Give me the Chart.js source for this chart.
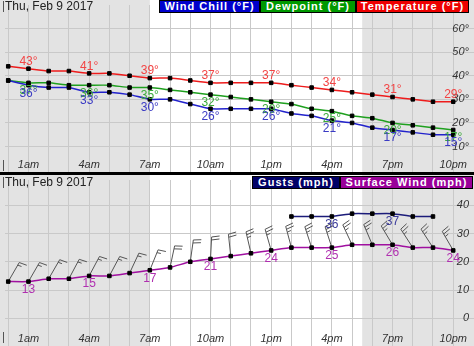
<!DOCTYPE html>
<html lang="en">
<head>
<meta charset="UTF-8">
<title>Hourly Weather Graph</title>
<script src="https://cdn.jsdelivr.net/npm/chart.js"></script>
<style>
    body { margin: 0; background: #fff; font-family: Arial, "Liberation Sans", sans-serif; }
    #wrap { position: relative; width: 474px; height: 346px; overflow: hidden; }
    canvas { position: absolute; left: 0; }
    #topChart { top: 0; }
    #bottomChart { top: 175px; }
    .divider { position: absolute; left: 0; top: 172px; width: 474px; height: 3px; background: #000; }
    .date { position: absolute; left: 5px; font-size: 12px; line-height: 13px; color: #222; }
    .mark { position: absolute; left: 3px; width: 1px; height: 11px; background: #555; }
    .key { position: absolute; height: 13px; box-sizing: border-box; border: 1px solid #000; color: #fff;
           font-weight: bold; font-size: 11px; letter-spacing: 1px; line-height: 11px; text-align: center; white-space: nowrap; }
</style>
</head>
<body>
<div id="wrap">
    <!-- top canvas runs a few px under the divider so the hour labels sit low like the original -->
    <canvas id="topChart" width="474" height="177"></canvas>
    <div class="divider"></div>
    <canvas id="bottomChart" width="474" height="176"></canvas>

    <div class="date" style="top:0">Thu, Feb 9 2017</div>
    <div class="mark" style="top:1px"></div>
    <div class="mark" style="top:160px"></div>
    <div class="key" style="left:159px; top:0; width:101px; background:#0000cc">Wind Chill (°F)</div>
    <div class="key" style="left:260px; top:0; width:96px; background:#009900">Dewpoint (°F)</div>
    <div class="key" style="left:356px; top:0; width:113px; background:#ee0000">Temperature (°F)</div>

    <div class="date" style="top:176px">Thu, Feb 9 2017</div>
    <div class="mark" style="top:177px"></div>
    <div class="mark" style="top:332px"></div>
    <div class="key" style="left:252px; top:176px; width:88px; background:#000066">Gusts (mph)</div>
    <div class="key" style="left:340px; top:176px; width:133px; background:#990099">Surface Wind (mph)</div>
</div>

<script>
    // hourly values, midnight to 10pm
    const hours = [0, 1, 2, 3, 4, 5, 6, 7, 8, 9, 10, 11, 12, 13, 14, 15, 16, 17, 18, 19, 20, 21, 22];
    const hourLabels = ["12am", "1am", "2am", "3am", "4am", "5am", "6am", "7am", "8am", "9am", "10am", "11am",
                        "12pm", "1pm", "2pm", "3pm", "4pm", "5pm", "6pm", "7pm", "8pm", "9pm", "10pm"];

    const temperature = [44, 43, 42, 42, 41, 41, 40, 39, 39, 38, 37, 37, 37, 37, 36, 35, 34, 33, 32, 31, 30, 29, 29];
    const dewpoint    = [38, 37, 37, 36, 36, 36, 35, 35, 34, 33, 32, 31, 30, 29, 28, 26, 25, 23, 22, 20, 19, 18, 17];
    const windChill   = [38, 36, 35, 35, 33, 33, 32, 30, 30, 28, 26, 26, 26, 26, 24, 23, 21, 20, 18, 17, 16, 15, 15];

    const surfaceWind = [13, 13, 14, 14, 15, 15, 16, 17, 18, 20, 21, 22, 23, 24, 25, 25, 25, 26, 26, 26, 25, 25, 24];
    const gusts = [null, null, null, null, null, null, null, null, null, null, null, null, null, null,
                   36, 36, 36, 37, 37, 37, 36, 36, null];
    // direction the barb staff points, degrees clockwise from north
    const windDirection = [30, 30, 30, 28, 28, 28, 25, 22, 12, 8, 3, 354, 347, 344, 345, 342, 342, 335, 337, 329, 327, 327, 330];

    const tempTicks = [10, 20, 30, 40, 50, 60];
    const windTicks = [0, 10, 20, 30, 40];

    const sunrise = 7;
    const sunset = 17.5;

    const FONT = 'Arial, "Liberation Sans", sans-serif';
    const gridColor = "#c9c9c9";
    const nightColor = "#e3e3e3";

    function pts(values) {
        return values.map((v, i) => ({ x: hours[i], y: v }));
    }

    const nightShade = {
        id: "nightShade",
        beforeDraw(chart) {
            const { ctx } = chart;
            const x = chart.scales.x;
            const rise = x.getPixelForValue(sunrise);
            const set = x.getPixelForValue(sunset);
            ctx.save();
            ctx.fillStyle = "#fff";
            ctx.fillRect(0, 0, chart.width, chart.height);
            ctx.fillStyle = nightColor;
            ctx.fillRect(0, 0, rise, chart.height);
            ctx.fillRect(set, 0, chart.width - set, chart.height);
            ctx.restore();
        }
    };

    // value labels every third hour
    const pointLabels = {
        id: "pointLabels",
        afterDatasetsDraw(chart, args, opts) {
            const ctx = chart.ctx;
            ctx.save();
            ctx.font = "12px " + FONT;
            ctx.textAlign = "center";
            ctx.textBaseline = "middle";
            opts.order.forEach(di => {
                const ds = chart.data.datasets[di];
                const meta = chart.getDatasetMeta(di);
                ctx.fillStyle = ds.labelColor;
                meta.data.forEach((pt, i) => {
                    const v = ds.data[i].y;
                    if (i % 3 !== 1 || v == null) return;
                    ctx.fillText(v + opts.suffix, pt.x, pt.y + ds.labelOffset);
                });
            });
            ctx.restore();
        }
    };

    // barbs: full feather = 10 mph, half = 5 mph
    const windBarbs = {
        id: "windBarbs",
        beforeDatasetsDraw(chart) {
            const ctx = chart.ctx;
            const meta = chart.getDatasetMeta(1);
            const staff = 22;
            ctx.save();
            ctx.strokeStyle = "#555";
            ctx.lineWidth = 1;
            meta.data.forEach((pt, i) => {
                const a = windDirection[i] * Math.PI / 180;
                const sx = Math.sin(a), sy = -Math.cos(a);
                const f = a + 80 * Math.PI / 180;
                const fx = Math.sin(f), fy = -Math.cos(f);
                const tipX = pt.x + sx * staff, tipY = pt.y + sy * staff;
                ctx.beginPath();
                ctx.moveTo(pt.x, pt.y);
                ctx.lineTo(tipX, tipY);
                let speed = Math.round(surfaceWind[i] / 5) * 5;
                let pos = 0;
                while (speed >= 5) {
                    const len = speed >= 10 ? 8 : 4;
                    const bx = tipX - sx * pos, by = tipY - sy * pos;
                    ctx.moveTo(bx, by);
                    ctx.lineTo(bx + fx * len, by + fy * len);
                    speed -= speed >= 10 ? 10 : 5;
                    pos += 3;
                }
                ctx.stroke();
            });
            ctx.restore();
        }
    };

    function lineSet(label, values, color, labelColor, labelOffset) {
        return {
            label: label,
            data: pts(values),
            borderColor: color,
            borderWidth: 1.5,
            pointStyle: "rect",
            pointRadius: 2.5,
            pointBackgroundColor: "#000",
            pointBorderColor: "#000",
            pointBorderWidth: 1,
            tension: 0.15,
            spanGaps: false,
            labelColor: labelColor,
            labelOffset: labelOffset
        };
    }

    function makeChart(id, datasets, yMin, yMax, yTicks, suffix, labelOrder, extra) {
        return new Chart(document.getElementById(id), {
            type: "line",
            data: { datasets: datasets },
            options: {
                responsive: false,
                animation: false,
                events: [],
                layout: { padding: 0 },
                plugins: {
                    legend: { display: false },
                    tooltip: { enabled: false },
                    pointLabels: { order: labelOrder, suffix: suffix }
                },
                scales: {
                    x: {
                        type: "linear",
                        min: -0.16,
                        max: 22.78,
                        afterBuildTicks: axis => { axis.ticks = hours.map(h => ({ value: h })); },
                        grid: { color: gridColor, drawTicks: false },
                        border: { display: false },
                        ticks: {
                            mirror: true, padding: 0, autoSkip: false, maxRotation: 0, color: "#333",
                            font: { family: FONT, size: 11, style: "italic" },
                            callback: v => (v % 3 === 1 ? hourLabels[v] : "")
                        }
                    },
                    y: {
                        position: "right",
                        min: yMin,
                        max: yMax,
                        afterBuildTicks: axis => { axis.ticks = yTicks.map(v => ({ value: v })); },
                        grid: { color: gridColor, drawTicks: true, tickLength: 5, tickColor: gridColor },
                        border: { display: false },
                        ticks: {
                            mirror: true, padding: 0, color: "#333",
                            font: { family: FONT, size: 11, style: "italic", lineHeight: 0.1 },
                            callback: v => v + suffix
                        }
                    }
                }
            },
            plugins: [nightShade, pointLabels].concat(extra)
        });
    }

    makeChart("topChart", [
        lineSet("Wind Chill (°F)", windChill, "#2222cc", "#3b3bc4", 8),
        lineSet("Dewpoint (°F)", dewpoint, "#1fa01f", "#3aaa3a", 8),
        lineSet("Temperature (°F)", temperature, "#ee1c1c", "#f24444", -7)
    ], -0.8, 70, tempTicks, "°", [2, 1, 0], []);

    makeChart("bottomChart", [
        lineSet("Gusts (mph)", gusts, "#1c1c7a", "#3a3a9a", 8),
        lineSet("Surface Wind (mph)", surfaceWind, "#a010a0", "#b030b0", 8)
    ], -9.77, 48.9, windTicks, "", [1, 0], [windBarbs]);
</script>
</body>
</html>
